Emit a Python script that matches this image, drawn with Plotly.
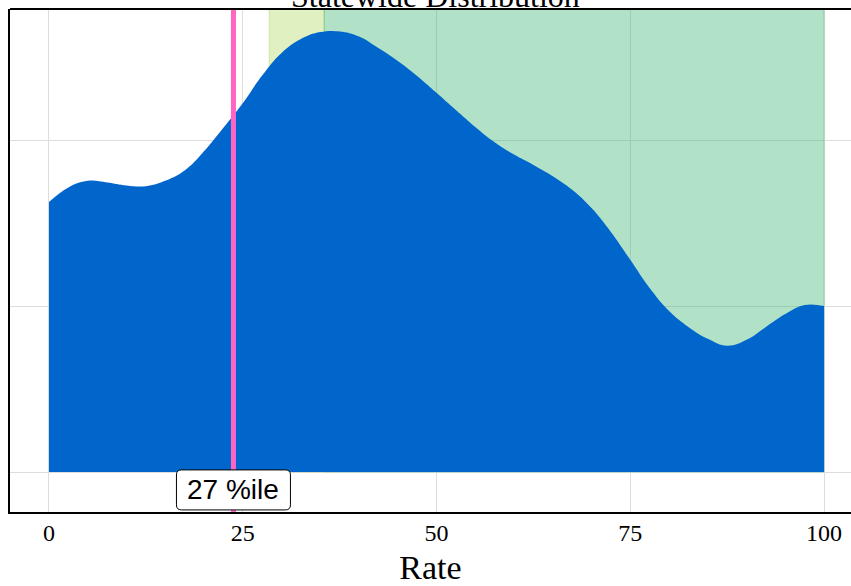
import plotly.graph_objects as go

# ---- data ----
rate = [0, 2.5, 5, 7.5, 10, 12.5, 15, 17.5, 20, 22.5, 25, 27.5, 30, 32.5, 35, 37.5,
        40, 42.5, 45, 47.5, 50, 52.5, 55, 57.5, 60, 62.5, 65, 67.5, 70, 72.5, 75,
        77.5, 80, 82.5, 85, 87.5, 90, 92.5, 95, 97.5, 100]
density = [0.00813, 0.00857, 0.00877, 0.00872, 0.00863, 0.00861, 0.00877, 0.00908,
           0.00966, 0.01037, 0.01111, 0.01194, 0.01262, 0.01304, 0.01325, 0.01327,
           0.01312, 0.01277, 0.01238, 0.01193, 0.01142, 0.01090, 0.01039, 0.00993,
           0.00956, 0.00925, 0.00891, 0.00850, 0.00795, 0.00723, 0.00639, 0.00554,
           0.00485, 0.00437, 0.00401, 0.00380, 0.00398, 0.00437, 0.00476, 0.00503,
           0.00500]
x_ticks = [0, 25, 50, 75, 100]
band_yellow = [28.4, 35.5]
band_green = [35.5, 100]
marker_value = 23.8
marker_label = "27 %ile"
title_text = "Statewide Distribution"
x_title = "Rate"

y_min, y_max = -0.001205, 0.013946
label_y = -0.00054

fig = go.Figure()
fig.add_trace(go.Scatter(
    x=rate, y=density, mode="lines", fill="tozeroy",
    line=dict(shape="spline", smoothing=1.2, width=0, color="#0066cc"),
    fillcolor="#0066cc", hoverinfo="skip", showlegend=False,
))

shapes = [
    dict(type="rect", xref="x", yref="y", x0=band_yellow[0], x1=band_yellow[1],
         y0=0, y1=0.0146, fillcolor="rgba(154,205,50,0.3)",
         line=dict(color="rgba(154,205,50,0.3)", width=1), layer="between"),
    dict(type="rect", xref="x", yref="y", x0=band_green[0], x1=band_green[1],
         y0=0, y1=0.0146, fillcolor="rgba(60,179,113,0.4)",
         line=dict(color="rgba(60,179,113,0.4)", width=1), layer="between"),
    dict(type="line", xref="x", yref="paper", x0=marker_value, x1=marker_value,
         y0=0, y1=1, line=dict(color="#ff66c4", width=5), layer="above"),
    dict(type="path", xref="x", yref="y", xsizemode="pixel", ysizemode="pixel",
         xanchor=marker_value, yanchor=label_y,
         path="M -52,-20 L 52,-20 Q 57,-20 57,-15 L 57,15 Q 57,20 52,20 "
              "L -52,20 Q -57,20 -57,15 L -57,-15 Q -57,-20 -52,-20 Z",
         fillcolor="white", line=dict(color="black", width=1), layer="above"),
    dict(type="line", xref="paper", yref="paper", x0=0, x1=1.01, y0=1, y1=1,
         line=dict(color="black", width=2), layer="above"),
]

fig.update_layout(
    width=851, height=586,
    margin=dict(l=10, r=0, t=9, b=74),
    paper_bgcolor="white", plot_bgcolor="white",
    shapes=shapes,
    annotations=[
        dict(x=marker_value, y=label_y, xref="x", yref="y",
             text=marker_label, showarrow=False,
             font=dict(family="Liberation Sans", size=28, color="black")),
        dict(x=0.5065, y=1, xref="paper", yref="paper", xanchor="center",
             yanchor="bottom", yshift=-7, text=title_text, showarrow=False,
             font=dict(family="Liberation Serif", size=32, color="black")),
    ],
    showlegend=False,
)
fig.update_xaxes(range=[-5.03, 103.48], tickvals=x_ticks, showgrid=True,
                 gridcolor="#dddddd", gridwidth=1, zeroline=False,
                 showline=True, linecolor="black", linewidth=2,
                 ticklabelstandoff=-2,
                 tickfont=dict(family="Liberation Serif", size=24, color="black"),
                 title=dict(text=x_title, standoff=12,
                            font=dict(family="Liberation Serif", size=34, color="black")))
fig.update_yaxes(range=[y_min, y_max], dtick=0.005, tick0=0, showticklabels=False,
                 showgrid=True, gridcolor="#dddddd", gridwidth=1, zeroline=False,
                 showline=True, linecolor="black", linewidth=2)

fig.write_html("out.html", config={"displayModeBar": False},
               post_script="document.body.style.margin='0px';document.body.style.overflow='hidden';")
